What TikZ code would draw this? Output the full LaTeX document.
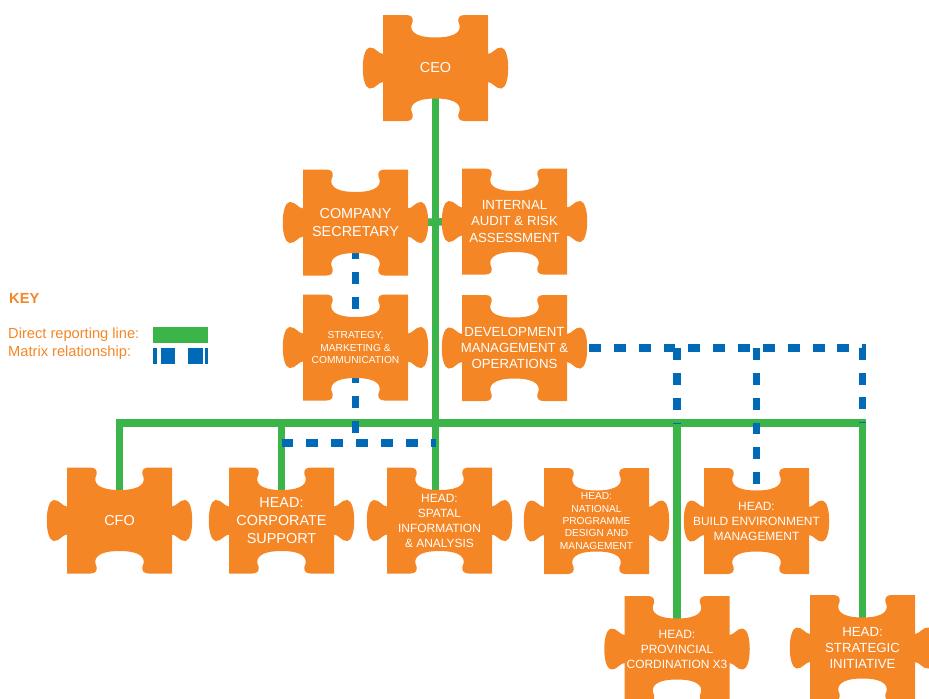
\documentclass[tikz,border=0pt]{standalone}
\usepackage{fontspec}
\setmainfont{Liberation Sans}
\usetikzlibrary{calc}
\definecolor{puzzleorange}{RGB}{244,134,38}
\definecolor{directgreen}{RGB}{59,181,74}
\definecolor{matrixblue}{RGB}{0,106,182}
\pgfdeclarelayer{lines}
\pgfdeclarelayer{pieces}
\pgfsetlayers{lines,pieces,main}
\def\puzzle(#1){\fill[puzzleorange, shift={(#1.center)}] (-52.5,-53) -- (-29,-53)
	.. controls (-24,-53) and (-22,-50) .. (-23,-46) .. controls (-27,-38) and (-22,-30.5) .. (0,-30.5)
	.. controls (22,-30.5) and (27,-38) .. (23,-46) .. controls (22,-50) and (24,-53) .. (29,-53)
	-- (52.5,-53) -- (52.5,-14)
	.. controls (57,-14) and (60,-21) .. (66,-20.5) .. controls (75,-19) and (75,19) .. (66,20.5)
	.. controls (60,21) and (57,14) .. (52.5,14) -- (52.5,53) -- (29,53)
	.. controls (24,53) and (22,50) .. (23,46) .. controls (27,38) and (22,30.5) .. (0,30.5)
	.. controls (-22,30.5) and (-27,38) .. (-23,46) .. controls (-22,50) and (-24,53) .. (-29,53)
	-- (-52.5,53) -- (-52.5,14)
	.. controls (-57,14) and (-60,21) .. (-66,20.5) .. controls (-75,19) and (-75,-19) .. (-66,-20.5)
	.. controls (-60,-21) and (-57,-14) .. (-52.5,-14) -- cycle;}
\tikzset{
	ptext/.style={text=white, align=center, inner sep=0pt},
	pbig/.style={ptext, font=\fontsize{12.3}{15.3}\selectfont},
	pmid/.style={ptext, font=\fontsize{11.3}{13.8}\selectfont},
	psmall/.style={ptext, font=\fontsize{10.2}{12.8}\selectfont},
	ptiny/.style={ptext, font=\fontsize{8.7}{10.6}\selectfont},
	direct/.style={directgreen, line width=6.4pt},
	matrixline/.style={matrixblue, line width=6pt, dash pattern=on 10.2pt off 11pt},
	keytext/.style={text=puzzleorange, anchor=west, inner sep=0pt, font=\fontsize{12.5}{15}\selectfont}
}

\begin{document}
\begin{tikzpicture}[x=0.03cm, y=-0.03cm]
			%%%%% START %%%%%
			\useasboundingbox (0, 0) rectangle (929, 698);
			
			\node[pbig] (ceo) at (435.5, 68) {CEO};
			
			\node[pbig] (cs) at (355.5, 222.5) {COMPANY\\SECRETARY};
			\node[pmid] (ia) at (514.5, 221.5) {INTERNAL\\AUDIT \& RISK\\ASSESSMENT};
			\node[ptiny] (smc) at (355.5, 347.5) {STRATEGY,\\MARKETING \&\\COMMUNICATION};
			\node[pmid] (dmo) at (514.5, 348) {DEVELOPMENT\\MANAGEMENT \&\\OPERATIONS};
			
			\node[pbig] (cfo) at (119.5, 520.5) {CFO};
			\node[pbig] (corp) at (281.5, 520.5) {HEAD:\\CORPORATE\\SUPPORT};
			\node[psmall] (sia) at (439.5, 520.5) {HEAD:\\SPATAL\\INFORMATION\\\& ANALYSIS};
			\node[ptiny] (npd) at (596.5, 521) {HEAD:\\NATIONAL\\PROGRAMME\\DESIGN AND\\MANAGEMENT};
			\node[psmall] (bem) at (756.5, 521) {HEAD:\\BUILD ENVIRONMENT\\MANAGEMENT};
			
			\node[psmall] (pc) at (677, 649) {HEAD:\\PROVINCIAL\\CORDINATION X3};
			\node[pmid] (si) at (862.5, 648) {HEAD:\\STRATEGIC\\INITIATIVE};
			
			\coordinate (bus) at (0, 423);
			\coordinate (mbus) at (0, 443);
			
			\begin{pgfonlayer}{pieces}
				\puzzle(ceo)
				\puzzle(cs)
				\puzzle(ia)
				\puzzle(smc)
				\puzzle(dmo)
				\puzzle(cfo)
				\puzzle(corp)
				\puzzle(sia)
				\puzzle(npd)
				\puzzle(bem)
				\puzzle(pc)
				\puzzle(si)
			\end{pgfonlayer}
			
			\begin{pgfonlayer}{lines}
				% direct reporting
				\draw[direct] (ceo.center) -- (ceo.center |- sia.center);
				\draw[direct] (cs.center) -- (ia.center);
				\draw[direct] (cfo.center) -- (cfo.center |- bus) -- (si.center |- bus) -- (si.center);
				\draw[direct] (corp.center |- bus) -- (corp.center);
				\draw[direct] (pc.center |- bus) -- (pc.center);
				
				% matrix
				\draw[matrixline] (cs.center) -- (cs.center |- mbus);
				\draw[matrixline] (corp.center |- mbus) -- (ceo.center |- mbus);
				\draw[matrixline] (dmo.center) -- (si.center |- dmo.center) -- (si.center |- bus);
				\draw[matrixline] (pc.center |- dmo.center) -- (pc.center |- bus);
				\draw[matrixline] (bem.center |- dmo.center) -- (bem.center);
			\end{pgfonlayer}
			
			% key
			\node[keytext, font=\fontsize{12.5}{15}\bfseries] (key) at (9, 298) {KEY};
			\node[keytext] (keydirect) at (8, 335) {Direct reporting line:};
			\node[keytext] (keymatrix) at (8, 353) {Matrix relationship:};
			\fill[directgreen] (153, 327) rectangle (208, 343);
			\draw[matrixblue, line width=13.6pt, dash pattern=on 3.4pt off 3.4pt on 11.9pt off 11pt on 12.8pt off 1.7pt on 2.6pt] (153, 356) -- (208, 356);
			
			%%%%% END %%%%%
\end{tikzpicture}
\end{document}
